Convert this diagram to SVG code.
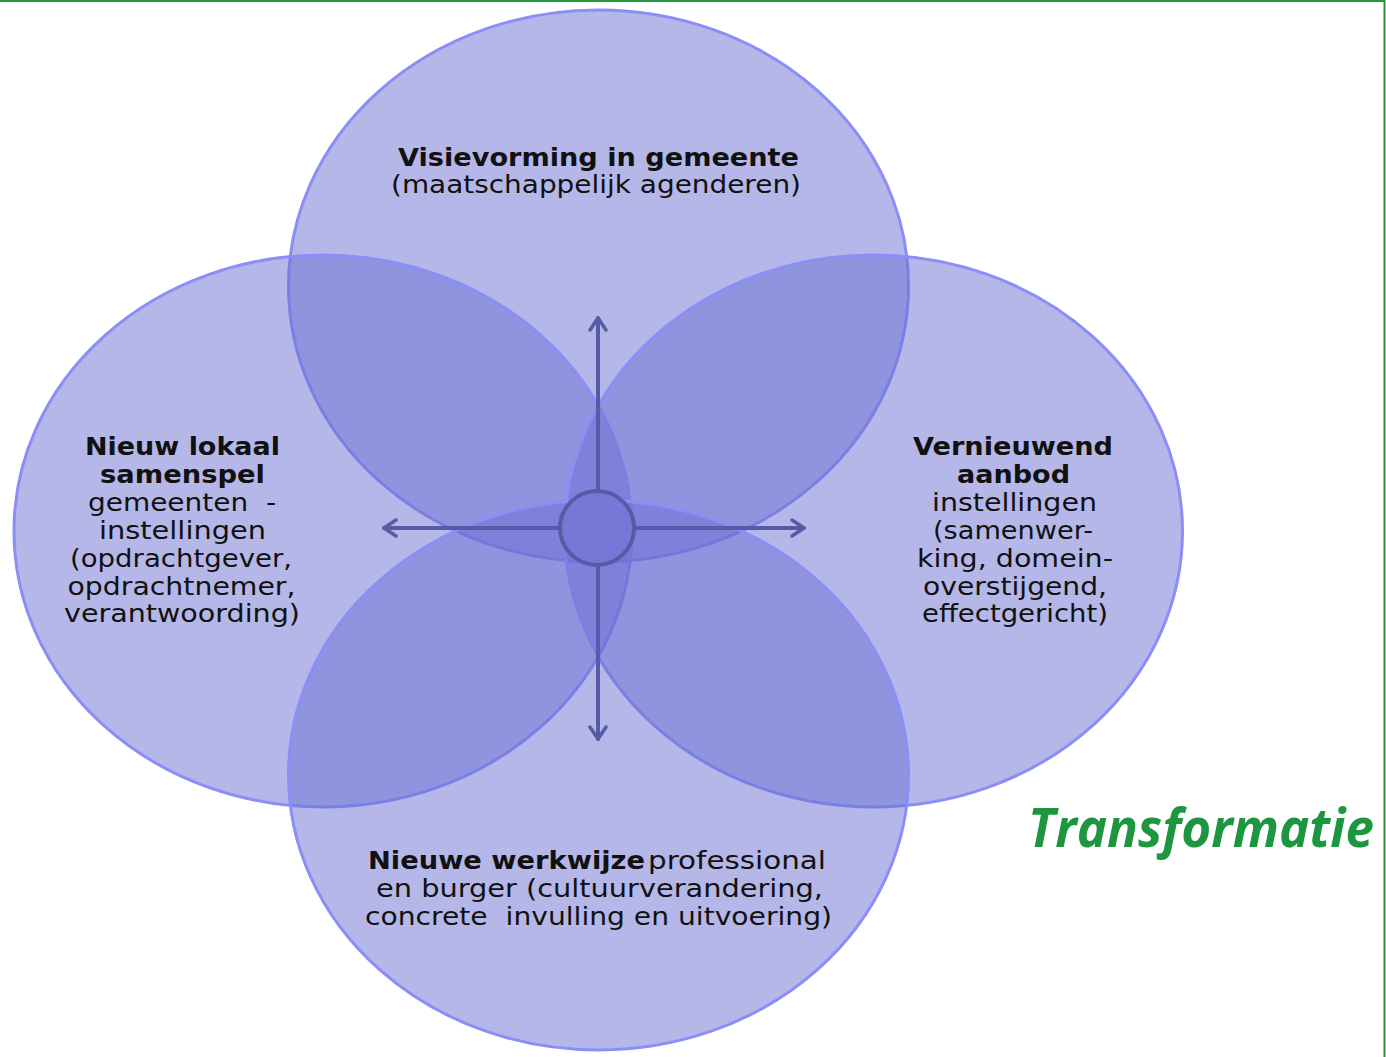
<svg xmlns="http://www.w3.org/2000/svg" width="1386" height="1057" viewBox="0 0 1386 1057">
<style>
.el{fill:#6b6fd4;fill-opacity:0.5;stroke:#8a8ef6;stroke-width:3}
.t{font-family:"DejaVu Sans","Liberation Sans",sans-serif;font-size:25px;fill:#111;text-anchor:middle;white-space:pre}
.b{font-weight:bold}
.ar{stroke:#575ba6;stroke-width:4;fill:none;stroke-linecap:round;stroke-linejoin:round}
</style>
<defs>
<marker id="ah" viewBox="0 0 20 20" refX="16" refY="10" markerWidth="5" markerHeight="5" markerUnits="strokeWidth" orient="auto">
<path d="M4,2 L16,10 L4,18" fill="none" stroke="#575ba6" stroke-width="3.5" stroke-linecap="round" stroke-linejoin="round"/>
</marker>
</defs>
<rect width="1386" height="1057" fill="#ffffff"/>
<path d="M0,1 H1384.5 V1057" fill="none" stroke="#1f9a3f" stroke-width="2"/>
<g id="node-top"><ellipse class="el" cx="598.5" cy="286" rx="310" ry="276"/></g>
<g id="node-left"><ellipse class="el" cx="323" cy="531" rx="309" ry="276"/></g>
<g id="node-right"><ellipse class="el" cx="873.5" cy="531" rx="309" ry="276"/></g>
<g id="node-bottom"><ellipse class="el" cx="598.5" cy="775" rx="310" ry="275"/></g>
<g id="connectors">
<line class="ar" x1="598" y1="528" x2="598" y2="318" marker-end="url(#ah)"/>
<line class="ar" x1="598" y1="528" x2="598" y2="739" marker-end="url(#ah)"/>
<line class="ar" x1="597" y1="528" x2="384" y2="528" marker-end="url(#ah)"/>
<line class="ar" x1="597" y1="528" x2="804" y2="528" marker-end="url(#ah)"/>
</g>
<g id="node-center"><circle cx="597" cy="528" r="37" fill="#7678d8" stroke="#575ba6" stroke-width="4"/></g>
<g id="label-top">
<text class="t b" x="598.5" y="166" textLength="401" lengthAdjust="spacingAndGlyphs">Visievorming in gemeente</text>
<text class="t" x="596" y="193" textLength="410" lengthAdjust="spacingAndGlyphs">(maatschappelijk agenderen)</text>
</g>
<g id="label-left">
<text class="t b" x="182.5" y="455" textLength="195" lengthAdjust="spacingAndGlyphs">Nieuw lokaal</text>
<text class="t b" x="182.5" y="483" textLength="165" lengthAdjust="spacingAndGlyphs">samenspel</text>
<text class="t" x="182" y="511" textLength="188" lengthAdjust="spacingAndGlyphs" xml:space="preserve">gemeenten  -</text>
<text class="t" x="182.5" y="539" textLength="167" lengthAdjust="spacingAndGlyphs">instellingen</text>
<text class="t" x="181" y="567" textLength="222" lengthAdjust="spacingAndGlyphs">(opdrachtgever,</text>
<text class="t" x="181.5" y="595" textLength="228" lengthAdjust="spacingAndGlyphs">opdrachtnemer,</text>
<text class="t" x="182" y="622" textLength="236" lengthAdjust="spacingAndGlyphs">verantwoording)</text>
</g>
<g id="label-right">
<text class="t b" x="1013" y="455" textLength="200" lengthAdjust="spacingAndGlyphs">Vernieuwend</text>
<text class="t b" x="1013.5" y="483" textLength="113" lengthAdjust="spacingAndGlyphs">aanbod</text>
<text class="t" x="1014.5" y="511" textLength="165" lengthAdjust="spacingAndGlyphs">instellingen</text>
<text class="t" x="1013" y="539" textLength="160" lengthAdjust="spacingAndGlyphs">(samenwer-</text>
<text class="t" x="1015" y="567" textLength="196" lengthAdjust="spacingAndGlyphs">king, domein-</text>
<text class="t" x="1015" y="595" textLength="184" lengthAdjust="spacingAndGlyphs">overstijgend,</text>
<text class="t" x="1015" y="622" textLength="186" lengthAdjust="spacingAndGlyphs">effectgericht)</text>
</g>
<g id="label-bottom">
<text class="t b" x="506.5" y="869" textLength="277" lengthAdjust="spacingAndGlyphs">Nieuwe werkwijze</text>
<text class="t" x="737" y="869" textLength="178" lengthAdjust="spacingAndGlyphs">professional</text>
<text class="t" x="599.5" y="897" textLength="447" lengthAdjust="spacingAndGlyphs">en burger (cultuurverandering,</text>
<text class="t" x="598.5" y="925" textLength="467" lengthAdjust="spacingAndGlyphs" xml:space="preserve">concrete  invulling en uitvoering)</text>
</g>
<text transform="translate(1028,847) scale(1,1.18)" x="0" y="0" font-family="'Open Sans','DejaVu Sans',sans-serif" font-size="46" font-weight="bold" font-style="italic" fill="#1e9640" textLength="346" lengthAdjust="spacingAndGlyphs">Transformatie</text>
</svg>
